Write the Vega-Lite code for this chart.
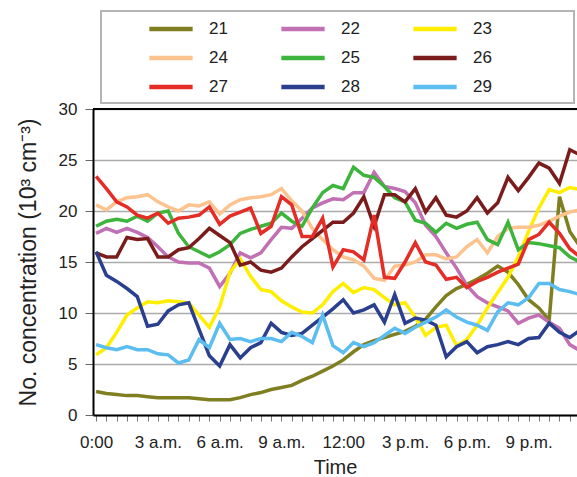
{
  "$schema": "https://vega.github.io/schema/vega-lite/v6.json",
  "width": 484,
  "height": 306,
  "autosize": {"type": "none"},
  "padding": {"left": 93, "top": 109, "right": 0, "bottom": 62},
  "background": "white",
  "config": {"font": "Liberation Sans", "view": {"stroke": null}},
  "data": {"values": [
{"s":"21","t":0,"v":2.3},{"s":"21","t":0.5,"v":2.1},{"s":"21","t":1,"v":2.0},{"s":"21","t":1.5,"v":1.9},{"s":"21","t":2,"v":1.9},{"s":"21","t":2.5,"v":1.8},{"s":"21","t":3,"v":1.7},{"s":"21","t":3.5,"v":1.7},{"s":"21","t":4,"v":1.7},{"s":"21","t":4.5,"v":1.7},{"s":"21","t":5,"v":1.6},{"s":"21","t":5.5,"v":1.5},{"s":"21","t":6,"v":1.5},{"s":"21","t":6.5,"v":1.5},{"s":"21","t":7,"v":1.7},{"s":"21","t":7.5,"v":2.0},{"s":"21","t":8,"v":2.2},{"s":"21","t":8.5,"v":2.5},{"s":"21","t":9,"v":2.7},{"s":"21","t":9.5,"v":2.9},{"s":"21","t":10,"v":3.4},{"s":"21","t":10.5,"v":3.8},{"s":"21","t":11,"v":4.3},{"s":"21","t":11.5,"v":4.8},{"s":"21","t":12,"v":5.4},{"s":"21","t":12.5,"v":6.2},{"s":"21","t":13,"v":6.9},{"s":"21","t":13.5,"v":7.3},{"s":"21","t":14,"v":7.6},{"s":"21","t":14.5,"v":7.9},{"s":"21","t":15,"v":8.2},{"s":"21","t":15.5,"v":8.7},{"s":"21","t":16,"v":9.4},{"s":"21","t":16.5,"v":10.6},{"s":"21","t":17,"v":11.7},{"s":"21","t":17.5,"v":12.4},{"s":"21","t":18,"v":12.8},{"s":"21","t":18.5,"v":13.3},{"s":"21","t":19,"v":13.9},{"s":"21","t":19.5,"v":14.6},{"s":"21","t":20,"v":14.0},{"s":"21","t":20.5,"v":12.8},{"s":"21","t":21,"v":11.3},{"s":"21","t":21.5,"v":10.5},{"s":"21","t":22,"v":9.3},{"s":"21","t":22.5,"v":21.4},{"s":"21","t":23,"v":18.0},{"s":"21","t":23.5,"v":16.5},
{"s":"22","t":0,"v":17.8},{"s":"22","t":0.5,"v":18.3},{"s":"22","t":1,"v":17.9},{"s":"22","t":1.5,"v":18.3},{"s":"22","t":2,"v":17.9},{"s":"22","t":2.5,"v":17.4},{"s":"22","t":3,"v":16.5},{"s":"22","t":3.5,"v":15.5},{"s":"22","t":4,"v":15.0},{"s":"22","t":4.5,"v":14.9},{"s":"22","t":5,"v":14.9},{"s":"22","t":5.5,"v":14.4},{"s":"22","t":6,"v":12.6},{"s":"22","t":6.5,"v":13.9},{"s":"22","t":7,"v":15.9},{"s":"22","t":7.5,"v":15.4},{"s":"22","t":8,"v":15.9},{"s":"22","t":8.5,"v":17.2},{"s":"22","t":9,"v":18.4},{"s":"22","t":9.5,"v":18.3},{"s":"22","t":10,"v":19.3},{"s":"22","t":10.5,"v":20.3},{"s":"22","t":11,"v":20.8},{"s":"22","t":11.5,"v":21.2},{"s":"22","t":12,"v":21.1},{"s":"22","t":12.5,"v":21.8},{"s":"22","t":13,"v":21.8},{"s":"22","t":13.5,"v":23.8},{"s":"22","t":14,"v":22.4},{"s":"22","t":14.5,"v":22.2},{"s":"22","t":15,"v":21.9},{"s":"22","t":15.5,"v":20.8},{"s":"22","t":16,"v":18.6},{"s":"22","t":16.5,"v":17.5},{"s":"22","t":17,"v":15.9},{"s":"22","t":17.5,"v":14.4},{"s":"22","t":18,"v":12.7},{"s":"22","t":18.5,"v":11.6},{"s":"22","t":19,"v":11.0},{"s":"22","t":19.5,"v":10.6},{"s":"22","t":20,"v":10.2},{"s":"22","t":20.5,"v":9.0},{"s":"22","t":21,"v":9.5},{"s":"22","t":21.5,"v":9.8},{"s":"22","t":22,"v":9.1},{"s":"22","t":22.5,"v":8.5},{"s":"22","t":23,"v":6.9},{"s":"22","t":23.5,"v":6.3},
{"s":"23","t":0,"v":5.9},{"s":"23","t":0.5,"v":6.6},{"s":"23","t":1,"v":8.1},{"s":"23","t":1.5,"v":9.8},{"s":"23","t":2,"v":10.5},{"s":"23","t":2.5,"v":11.1},{"s":"23","t":3,"v":11.0},{"s":"23","t":3.5,"v":11.2},{"s":"23","t":4,"v":11.1},{"s":"23","t":4.5,"v":11.0},{"s":"23","t":5,"v":9.8},{"s":"23","t":5.5,"v":8.6},{"s":"23","t":6,"v":10.6},{"s":"23","t":6.5,"v":14.0},{"s":"23","t":7,"v":15.3},{"s":"23","t":7.5,"v":13.6},{"s":"23","t":8,"v":12.3},{"s":"23","t":8.5,"v":12.1},{"s":"23","t":9,"v":11.2},{"s":"23","t":9.5,"v":10.6},{"s":"23","t":10,"v":10.1},{"s":"23","t":10.5,"v":10.0},{"s":"23","t":11,"v":10.8},{"s":"23","t":11.5,"v":12.1},{"s":"23","t":12,"v":12.9},{"s":"23","t":12.5,"v":12.0},{"s":"23","t":13,"v":12.5},{"s":"23","t":13.5,"v":12.3},{"s":"23","t":14,"v":11.5},{"s":"23","t":14.5,"v":10.8},{"s":"23","t":15,"v":11.0},{"s":"23","t":15.5,"v":9.6},{"s":"23","t":16,"v":7.8},{"s":"23","t":16.5,"v":8.6},{"s":"23","t":17,"v":8.8},{"s":"23","t":17.5,"v":6.8},{"s":"23","t":18,"v":7.4},{"s":"23","t":18.5,"v":8.8},{"s":"23","t":19,"v":10.5},{"s":"23","t":19.5,"v":12.0},{"s":"23","t":20,"v":13.5},{"s":"23","t":20.5,"v":15.5},{"s":"23","t":21,"v":18.0},{"s":"23","t":21.5,"v":20.3},{"s":"23","t":22,"v":22.1},{"s":"23","t":22.5,"v":21.8},{"s":"23","t":23,"v":22.3},{"s":"23","t":23.5,"v":22.1},
{"s":"24","t":0,"v":20.6},{"s":"24","t":0.5,"v":20.1},{"s":"24","t":1,"v":20.9},{"s":"24","t":1.5,"v":21.3},{"s":"24","t":2,"v":21.4},{"s":"24","t":2.5,"v":21.6},{"s":"24","t":3,"v":20.9},{"s":"24","t":3.5,"v":20.4},{"s":"24","t":4,"v":20.0},{"s":"24","t":4.5,"v":20.6},{"s":"24","t":5,"v":20.5},{"s":"24","t":5.5,"v":20.9},{"s":"24","t":6,"v":19.7},{"s":"24","t":6.5,"v":20.6},{"s":"24","t":7,"v":21.1},{"s":"24","t":7.5,"v":21.3},{"s":"24","t":8,"v":21.4},{"s":"24","t":8.5,"v":21.6},{"s":"24","t":9,"v":22.2},{"s":"24","t":9.5,"v":21.0},{"s":"24","t":10,"v":20.0},{"s":"24","t":10.5,"v":18.3},{"s":"24","t":11,"v":17.2},{"s":"24","t":11.5,"v":16.2},{"s":"24","t":12,"v":15.5},{"s":"24","t":12.5,"v":15.2},{"s":"24","t":13,"v":14.6},{"s":"24","t":13.5,"v":13.4},{"s":"24","t":14,"v":13.2},{"s":"24","t":14.5,"v":14.6},{"s":"24","t":15,"v":14.7},{"s":"24","t":15.5,"v":15.0},{"s":"24","t":16,"v":15.7},{"s":"24","t":16.5,"v":15.7},{"s":"24","t":17,"v":15.3},{"s":"24","t":17.5,"v":15.5},{"s":"24","t":18,"v":16.5},{"s":"24","t":18.5,"v":17.2},{"s":"24","t":19,"v":15.9},{"s":"24","t":19.5,"v":17.5},{"s":"24","t":20,"v":18.3},{"s":"24","t":20.5,"v":18.4},{"s":"24","t":21,"v":18.4},{"s":"24","t":21.5,"v":18.6},{"s":"24","t":22,"v":19.0},{"s":"24","t":22.5,"v":19.5},{"s":"24","t":23,"v":19.9},{"s":"24","t":23.5,"v":20.1},
{"s":"25","t":0,"v":18.5},{"s":"25","t":0.5,"v":19.0},{"s":"25","t":1,"v":19.2},{"s":"25","t":1.5,"v":19.0},{"s":"25","t":2,"v":19.5},{"s":"25","t":2.5,"v":19.0},{"s":"25","t":3,"v":19.8},{"s":"25","t":3.5,"v":20.0},{"s":"25","t":4,"v":17.8},{"s":"25","t":4.5,"v":16.5},{"s":"25","t":5,"v":16.0},{"s":"25","t":5.5,"v":15.5},{"s":"25","t":6,"v":16.0},{"s":"25","t":6.5,"v":16.7},{"s":"25","t":7,"v":17.8},{"s":"25","t":7.5,"v":18.2},{"s":"25","t":8,"v":18.5},{"s":"25","t":8.5,"v":18.8},{"s":"25","t":9,"v":19.8},{"s":"25","t":9.5,"v":19.0},{"s":"25","t":10,"v":18.5},{"s":"25","t":10.5,"v":20.3},{"s":"25","t":11,"v":21.8},{"s":"25","t":11.5,"v":22.5},{"s":"25","t":12,"v":22.2},{"s":"25","t":12.5,"v":24.3},{"s":"25","t":13,"v":23.5},{"s":"25","t":13.5,"v":23.3},{"s":"25","t":14,"v":22.4},{"s":"25","t":14.5,"v":21.3},{"s":"25","t":15,"v":20.9},{"s":"25","t":15.5,"v":19.1},{"s":"25","t":16,"v":18.8},{"s":"25","t":16.5,"v":17.9},{"s":"25","t":17,"v":18.8},{"s":"25","t":17.5,"v":18.3},{"s":"25","t":18,"v":18.7},{"s":"25","t":18.5,"v":18.9},{"s":"25","t":19,"v":17.2},{"s":"25","t":19.5,"v":16.7},{"s":"25","t":20,"v":18.9},{"s":"25","t":20.5,"v":16.2},{"s":"25","t":21,"v":16.9},{"s":"25","t":21.5,"v":16.8},{"s":"25","t":22,"v":16.6},{"s":"25","t":22.5,"v":16.4},{"s":"25","t":23,"v":15.5},{"s":"25","t":23.5,"v":15.0},
{"s":"26","t":0,"v":15.9},{"s":"26","t":0.5,"v":15.5},{"s":"26","t":1,"v":15.5},{"s":"26","t":1.5,"v":17.4},{"s":"26","t":2,"v":17.2},{"s":"26","t":2.5,"v":17.3},{"s":"26","t":3,"v":15.5},{"s":"26","t":3.5,"v":15.5},{"s":"26","t":4,"v":16.2},{"s":"26","t":4.5,"v":16.4},{"s":"26","t":5,"v":17.3},{"s":"26","t":5.5,"v":18.3},{"s":"26","t":6,"v":17.6},{"s":"26","t":6.5,"v":16.9},{"s":"26","t":7,"v":14.7},{"s":"26","t":7.5,"v":15.0},{"s":"26","t":8,"v":14.2},{"s":"26","t":8.5,"v":14.0},{"s":"26","t":9,"v":14.4},{"s":"26","t":9.5,"v":15.5},{"s":"26","t":10,"v":16.5},{"s":"26","t":10.5,"v":17.3},{"s":"26","t":11,"v":18.1},{"s":"26","t":11.5,"v":18.9},{"s":"26","t":12,"v":18.9},{"s":"26","t":12.5,"v":19.8},{"s":"26","t":13,"v":21.4},{"s":"26","t":13.5,"v":18.5},{"s":"26","t":14,"v":21.6},{"s":"26","t":14.5,"v":21.6},{"s":"26","t":15,"v":20.9},{"s":"26","t":15.5,"v":22.2},{"s":"26","t":16,"v":19.9},{"s":"26","t":16.5,"v":21.3},{"s":"26","t":17,"v":19.6},{"s":"26","t":17.5,"v":19.4},{"s":"26","t":18,"v":20.0},{"s":"26","t":18.5,"v":21.3},{"s":"26","t":19,"v":19.8},{"s":"26","t":19.5,"v":20.8},{"s":"26","t":20,"v":23.3},{"s":"26","t":20.5,"v":22.0},{"s":"26","t":21,"v":23.3},{"s":"26","t":21.5,"v":24.7},{"s":"26","t":22,"v":24.2},{"s":"26","t":22.5,"v":22.7},{"s":"26","t":23,"v":26.0},{"s":"26","t":23.5,"v":25.5},
{"s":"27","t":0,"v":23.4},{"s":"27","t":0.5,"v":22.2},{"s":"27","t":1,"v":20.9},{"s":"27","t":1.5,"v":20.4},{"s":"27","t":2,"v":19.6},{"s":"27","t":2.5,"v":19.3},{"s":"27","t":3,"v":19.8},{"s":"27","t":3.5,"v":18.8},{"s":"27","t":4,"v":19.3},{"s":"27","t":4.5,"v":19.4},{"s":"27","t":5,"v":19.6},{"s":"27","t":5.5,"v":20.4},{"s":"27","t":6,"v":18.7},{"s":"27","t":6.5,"v":19.5},{"s":"27","t":7,"v":19.9},{"s":"27","t":7.5,"v":20.3},{"s":"27","t":8,"v":17.8},{"s":"27","t":8.5,"v":18.5},{"s":"27","t":9,"v":21.4},{"s":"27","t":9.5,"v":20.6},{"s":"27","t":10,"v":17.5},{"s":"27","t":10.5,"v":17.5},{"s":"27","t":11,"v":19.3},{"s":"27","t":11.5,"v":14.5},{"s":"27","t":12,"v":16.2},{"s":"27","t":12.5,"v":16.0},{"s":"27","t":13,"v":15.2},{"s":"27","t":13.5,"v":19.6},{"s":"27","t":14,"v":13.5},{"s":"27","t":14.5,"v":13.4},{"s":"27","t":15,"v":15.0},{"s":"27","t":15.5,"v":16.9},{"s":"27","t":16,"v":15.0},{"s":"27","t":16.5,"v":14.7},{"s":"27","t":17,"v":13.3},{"s":"27","t":17.5,"v":13.5},{"s":"27","t":18,"v":12.5},{"s":"27","t":18.5,"v":13.1},{"s":"27","t":19,"v":13.5},{"s":"27","t":19.5,"v":14.0},{"s":"27","t":20,"v":14.4},{"s":"27","t":20.5,"v":14.8},{"s":"27","t":21,"v":17.2},{"s":"27","t":21.5,"v":17.7},{"s":"27","t":22,"v":18.9},{"s":"27","t":22.5,"v":17.8},{"s":"27","t":23,"v":16.3},{"s":"27","t":23.5,"v":15.5},
{"s":"28","t":0,"v":16.0},{"s":"28","t":0.5,"v":13.7},{"s":"28","t":1,"v":13.1},{"s":"28","t":1.5,"v":12.4},{"s":"28","t":2,"v":11.6},{"s":"28","t":2.5,"v":8.7},{"s":"28","t":3,"v":8.9},{"s":"28","t":3.5,"v":10.2},{"s":"28","t":4,"v":10.8},{"s":"28","t":4.5,"v":11.0},{"s":"28","t":5,"v":8.4},{"s":"28","t":5.5,"v":5.8},{"s":"28","t":6,"v":4.8},{"s":"28","t":6.5,"v":6.9},{"s":"28","t":7,"v":5.6},{"s":"28","t":7.5,"v":6.6},{"s":"28","t":8,"v":7.1},{"s":"28","t":8.5,"v":9.0},{"s":"28","t":9,"v":8.1},{"s":"28","t":9.5,"v":7.8},{"s":"28","t":10,"v":8.0},{"s":"28","t":10.5,"v":8.8},{"s":"28","t":11,"v":9.6},{"s":"28","t":11.5,"v":10.4},{"s":"28","t":12,"v":11.3},{"s":"28","t":12.5,"v":10.0},{"s":"28","t":13,"v":10.3},{"s":"28","t":13.5,"v":10.8},{"s":"28","t":14,"v":9.1},{"s":"28","t":14.5,"v":11.8},{"s":"28","t":15,"v":9.0},{"s":"28","t":15.5,"v":9.5},{"s":"28","t":16,"v":9.3},{"s":"28","t":16.5,"v":8.8},{"s":"28","t":17,"v":5.7},{"s":"28","t":17.5,"v":6.7},{"s":"28","t":18,"v":7.2},{"s":"28","t":18.5,"v":6.1},{"s":"28","t":19,"v":6.7},{"s":"28","t":19.5,"v":6.9},{"s":"28","t":20,"v":7.2},{"s":"28","t":20.5,"v":6.9},{"s":"28","t":21,"v":7.5},{"s":"28","t":21.5,"v":7.6},{"s":"28","t":22,"v":9.0},{"s":"28","t":22.5,"v":8.1},{"s":"28","t":23,"v":7.6},{"s":"28","t":23.5,"v":8.3},
{"s":"29","t":0,"v":6.9},{"s":"29","t":0.5,"v":6.6},{"s":"29","t":1,"v":6.4},{"s":"29","t":1.5,"v":6.7},{"s":"29","t":2,"v":6.4},{"s":"29","t":2.5,"v":6.4},{"s":"29","t":3,"v":6.0},{"s":"29","t":3.5,"v":5.9},{"s":"29","t":4,"v":5.1},{"s":"29","t":4.5,"v":5.4},{"s":"29","t":5,"v":7.4},{"s":"29","t":5.5,"v":6.6},{"s":"29","t":6,"v":9.0},{"s":"29","t":6.5,"v":7.4},{"s":"29","t":7,"v":7.5},{"s":"29","t":7.5,"v":7.2},{"s":"29","t":8,"v":7.5},{"s":"29","t":8.5,"v":7.5},{"s":"29","t":9,"v":7.2},{"s":"29","t":9.5,"v":8.1},{"s":"29","t":10,"v":7.7},{"s":"29","t":10.5,"v":7.1},{"s":"29","t":11,"v":9.8},{"s":"29","t":11.5,"v":6.8},{"s":"29","t":12,"v":6.1},{"s":"29","t":12.5,"v":7.1},{"s":"29","t":13,"v":6.7},{"s":"29","t":13.5,"v":7.1},{"s":"29","t":14,"v":7.8},{"s":"29","t":14.5,"v":8.5},{"s":"29","t":15,"v":8.0},{"s":"29","t":15.5,"v":8.6},{"s":"29","t":16,"v":9.1},{"s":"29","t":16.5,"v":9.6},{"s":"29","t":17,"v":10.3},{"s":"29","t":17.5,"v":9.6},{"s":"29","t":18,"v":9.1},{"s":"29","t":18.5,"v":8.8},{"s":"29","t":19,"v":8.3},{"s":"29","t":19.5,"v":10.1},{"s":"29","t":20,"v":11.0},{"s":"29","t":20.5,"v":10.8},{"s":"29","t":21,"v":11.5},{"s":"29","t":21.5,"v":12.9},{"s":"29","t":22,"v":12.9},{"s":"29","t":22.5,"v":12.3},{"s":"29","t":23,"v":12.1},{"s":"29","t":23.5,"v":11.8}
  ]},
  "layer": [
    {
      "mark": {"type": "line", "strokeWidth": 3.5, "clip": true},
      "encoding": {
        "x": {
          "field": "t", "type": "quantitative",
          "scale": {"domain": [-0.15, 23.35], "nice": false, "zero": false},
          "axis": {
            "values": [0,0.5,1,1.5,2,2.5,3,3.5,4,4.5,5,5.5,6,6.5,7,7.5,8,8.5,9,9.5,10,10.5,11,11.5,12,12.5,13,13.5,14,14.5,15,15.5,16,16.5,17,17.5,18,18.5,19,19.5,20,20.5,21,21.5,22,22.5,23],
            "labelExpr": "datum.value==0?'0:00':datum.value==3?'3 a.m.':datum.value==6?'6 a.m.':datum.value==9?'9 a.m.':datum.value==12?'12:00':datum.value==15?'3 p.m.':datum.value==18?'6 p.m.':datum.value==21?'9 p.m.':''",
            "grid": false, "domainColor": "black", "domainWidth": 2,
            "tickColor": "#777", "tickSize": 6, "tickWidth": 1,
            "labelFontSize": 17, "labelColor": "#222", "labelPadding": 13,
            "labelFlush": false, "labelOverlap": false, "labelBound": false,
            "encode": {"labels": {"update": {"dx": {"signal": "datum.value == 0 ? 6 : 0"}}}},
            "title": "Time", "titleFontSize": 20, "titleFontWeight": "normal", "titleColor": "#222", "titlePadding": 7
          }
        },
        "y": {
          "field": "v", "type": "quantitative",
          "scale": {"domain": [0, 30], "nice": false},
          "axis": {
            "values": [0,5,10,15,20,25,30],
            "grid": true, "gridColor": "#ababab", "gridWidth": 1.5,
            "domainColor": "black", "domainWidth": 2,
            "tickColor": "#666", "tickSize": 8, "tickWidth": 1,
            "labelFontSize": 17, "labelColor": "#222", "labelPadding": 8,
            "title": "No. concentration (10³ cm⁻³)", "titleFontSize": 23, "titleFontWeight": "normal", "titleColor": "#222", "titlePadding": 18
          }
        },
        "color": {
          "field": "s", "type": "nominal",
          "scale": {
            "domain": ["21","22","23","24","25","26","27","28","29"],
            "range": ["#7f7f22","#c070b3","#ffee00","#fcc38f","#3db53d","#7b1c1c","#e52d27","#2b3f8f","#5bbdf0"]
          },
          "legend": {
            "orient": "none", "legendX": 8, "legendY": -98,
            "direction": "horizontal", "columns": 3,
            "title": " ", "titleOrient": "right", "titlePadding": 75, "titleFontSize": 10,
            "symbolType": "M-2.5,0H2.5", "symbolSize": 300, "symbolStrokeWidth": 4.5,
            "labelFontSize": 17, "labelColor": "#222", "labelOffset": 27,
            "columnPadding": 12, "rowPadding": 9,
            "padding": 7, "symbolOffset": 52,
            "strokeColor": "#b5b5b5", "fillColor": "white",
            "encode": {"legend": {"update": {"strokeWidth": {"value": 2}}}}
          }
        }
      }
    },
    {
      "mark": {"type": "rule", "color": "black", "strokeWidth": 2},
      "encoding": {"y": {"datum": 30}}
    }
  ]
}
